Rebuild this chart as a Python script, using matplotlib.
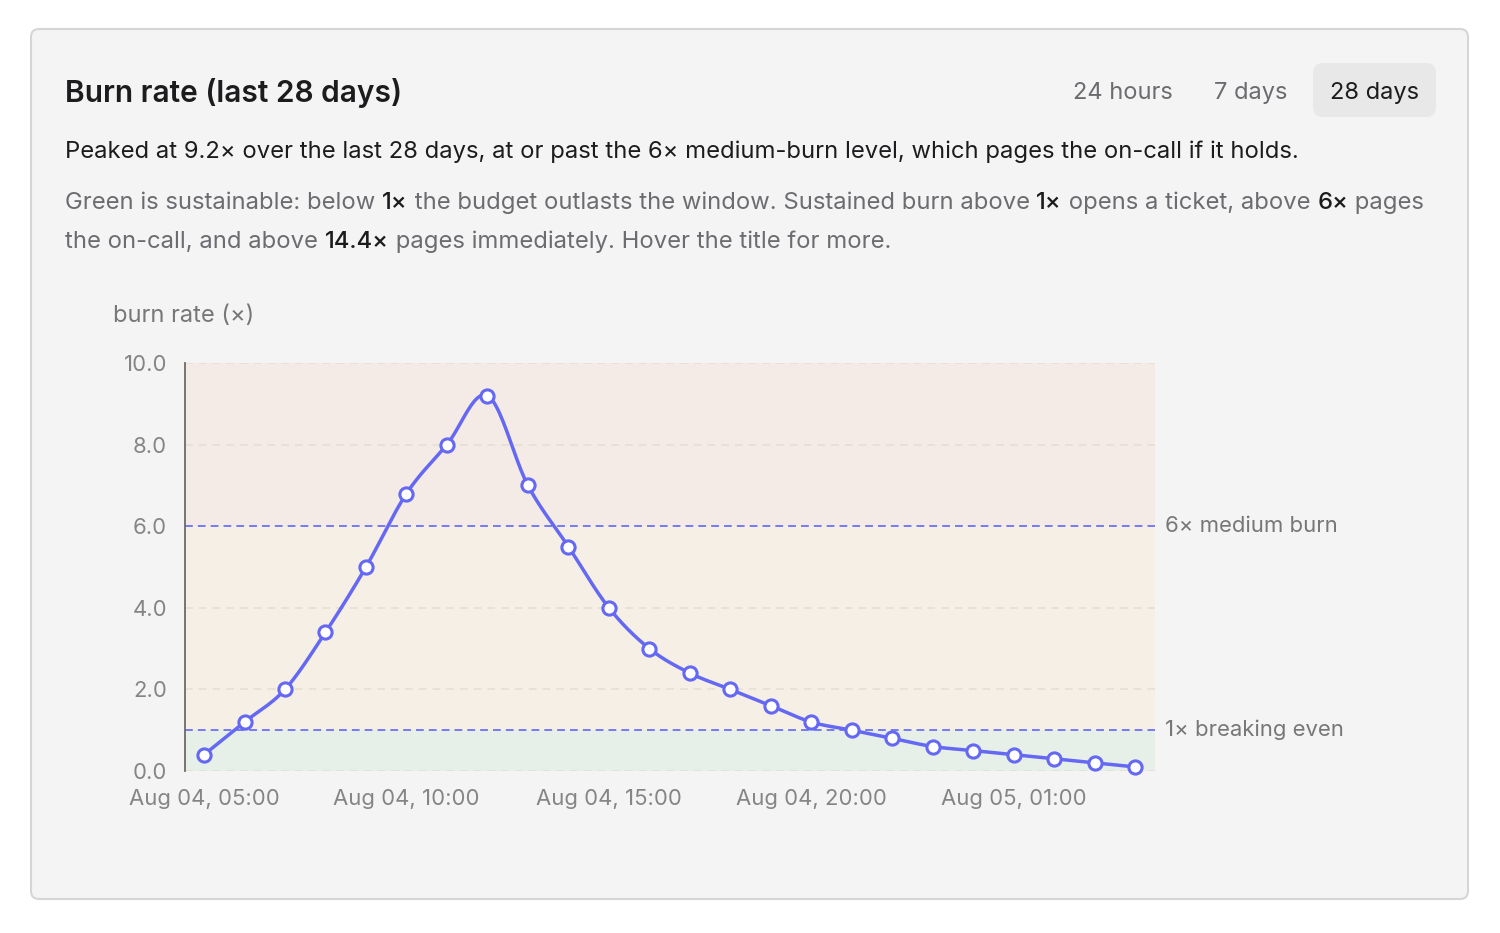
import numpy as np
import matplotlib
matplotlib.use('Agg')
import matplotlib.pyplot as plt
from matplotlib.patches import FancyBboxPatch
from matplotlib.transforms import IdentityTransform

# ---------------- data ----------------
hours = list(range(24))  # hours after Aug 04, 05:00
burn = [0.4, 1.2, 2.0, 3.4, 5.0, 6.8, 8.0, 9.2, 7.0, 5.5, 4.0, 3.0,
        2.4, 2.0, 1.6, 1.2, 1.0, 0.8, 0.6, 0.5, 0.4, 0.3, 0.2, 0.1]
tick_hours = [0, 5, 10, 15, 20]
tick_labels = ["Aug 04, 05:00", "Aug 04, 10:00", "Aug 04, 15:00",
               "Aug 04, 20:00", "Aug 05, 01:00"]
yticks = [0, 2, 4, 6, 8, 10]
ytick_labels = ["0.0", "2.0", "4.0", "6.0", "8.0", "10.0"]
thresholds = [6, 1]
threshold_labels = ["6× medium burn", "1× breaking even"]
band_edges = [0, 1, 6, 10]
band_colors = ['#e6f0e8', '#f5efe6', '#f5ebe6']
tabs = ["24 hours", "7 days", "28 days"]

FONT = ['Inter', 'DejaVu Sans']
plt.rcParams['font.family'] = FONT

W, H = 1500, 933
fig = plt.figure(figsize=(W / 100, H / 100), dpi=100)
fig.patch.set_facecolor('white')


def fx(x):
    return x / W


def fy(y):
    return 1 - y / H


# card
card = FancyBboxPatch((31, H - 899), 1437, 870,
                      boxstyle="round,pad=0,rounding_size=8",
                      transform=IdentityTransform(),
                      facecolor='#f4f4f4', edgecolor='#d6d6d6', lw=1.5, zorder=-10)
fig.patches.append(card)

# active tab background
tabbg = FancyBboxPatch((1313, H - 117), 123, 54,
                       boxstyle="round,pad=0,rounding_size=10",
                       transform=IdentityTransform(),
                       facecolor='#e8e8e8', edgecolor='none', zorder=-9)
fig.patches.append(tabbg)

fig.text(fx(65), fy(93), "Burn rate (last 28 days)", fontsize=21.5,
         fontweight='semibold', color='#1c1c1e', va='center', ha='left')

tab_x = [1123, 1251, 1374]
for i, (t, x) in enumerate(zip(tabs, tab_x)):
    fig.text(fx(x), fy(93), t, fontsize=17, color='#1c1c1e' if i == 2 else '#6b6b70',
             va='center', ha='center')

renderer = fig.canvas.get_renderer()


def text_width(s, **kw):
    a = fig.text(0, 0, s + "l", **kw)
    b = fig.text(0, 0, "l", **kw)
    w = a.get_window_extent(renderer).width - b.get_window_extent(renderer).width
    a.remove()
    b.remove()
    return w


def draw_runs(x, y, runs, size):
    for s, color, weight in runs:
        kw = dict(fontsize=size, color=color, fontweight=weight)
        fig.text(fx(x), fy(y), s, va='center', ha='left', **kw)
        x += text_width(s, **kw)


DARK = '#1c1c1e'
GREY = '#6b6b70'
BODY = 17.15
draw_runs(65, 152, [("Peaked at 9.2× over the last 28 days, at or past the 6× medium-burn level, "
                     "which pages the on-call if it holds.", DARK, 'normal')], BODY)
draw_runs(65, 203, [("Green is sustainable: below ", GREY, 'normal'),
                    ("1×", DARK, 'medium'),
                    (" the budget outlasts the window. Sustained burn above ", GREY, 'normal'),
                    ("1×", DARK, 'medium'),
                    (" opens a ticket, above ", GREY, 'normal'),
                    ("6×", DARK, 'medium'),
                    (" pages", GREY, 'normal')], BODY)
draw_runs(65, 242, [("the on-call, and above ", GREY, 'normal'),
                    ("14.4×", DARK, 'medium'),
                    (" pages immediately. Hover the title for more.", GREY, 'normal')], BODY)

fig.text(fx(113), fy(316), "burn rate (×)", fontsize=17, color='#777777',
         va='center', ha='left')

# ---------------- chart ----------------
ax = fig.add_axes([fx(185), fy(771), (1155 - 185) / W, (771 - 363) / H])
ax.set_facecolor('none')
ax.set_xlim(-0.47, 23.49)
ax.set_ylim(0, 10)

for lo, hi, c in zip(band_edges[:-1], band_edges[1:], band_colors):
    ax.axhspan(lo, hi, color=c, lw=0, zorder=0)

for yv in yticks:
    if yv not in thresholds:
        ax.axhline(yv, color='#e4ddd2', lw=1.1, ls=(0, (5, 4)), zorder=1)

label_x = (1165 - 185) / 970
for t, lab in zip(thresholds, threshold_labels):
    ax.axhline(t, color='#767af3', lw=1.4, ls=(0, (4, 2.6)), zorder=2)
    ax.text(label_x, t, lab, transform=ax.get_yaxis_transform(), fontsize=15.9,
            color='#777777', va='center', ha='left')


def catmull_rom(x, y, n=24):
    x = np.asarray(x, float)
    y = np.asarray(y, float)
    px = np.concatenate([[x[0]], x, [x[-1]]])
    py = np.concatenate([[y[0]], y, [y[-1]]])
    t = np.linspace(0, 1, n)
    xs, ys = [], []
    for i in range(len(x) - 1):
        p0 = np.array([px[i], py[i]])
        p1 = np.array([px[i + 1], py[i + 1]])
        p2 = np.array([px[i + 2], py[i + 2]])
        p3 = np.array([px[i + 3], py[i + 3]])
        c1 = p1 + (p2 - p0) / 6
        c2 = p2 - (p3 - p1) / 6
        b = ((1 - t) ** 3)[:, None] * p1 + (3 * (1 - t) ** 2 * t)[:, None] * c1 + \
            (3 * (1 - t) * t ** 2)[:, None] * c2 + (t ** 3)[:, None] * p2
        xs.extend(b[:, 0])
        ys.extend(b[:, 1])
    return np.array(xs), np.array(ys)


sx, sy = catmull_rom(hours, burn)
LINE = '#6468f2'
ax.plot(sx, sy, color=LINE, lw=2.5, zorder=3, clip_on=False, solid_capstyle='round')
ax.plot(hours, burn, 'o', ms=9.5, mfc='white', mec=LINE, mew=2.2, zorder=4, clip_on=False)

for s in ['top', 'right', 'bottom']:
    ax.spines[s].set_visible(False)
ax.spines['left'].set_color('#6e6a66')
ax.spines['left'].set_linewidth(1.3)

ax.set_yticks(yticks)
ax.set_yticklabels(ytick_labels)
ax.set_xticks(tick_hours)
ax.set_xticklabels(tick_labels)
ax.tick_params(axis='both', length=0, labelsize=15.9, labelcolor='#858585')
ax.tick_params(axis='y', pad=13)
ax.tick_params(axis='x', pad=13)

fig.savefig('out.png', dpi=100, facecolor='white')
